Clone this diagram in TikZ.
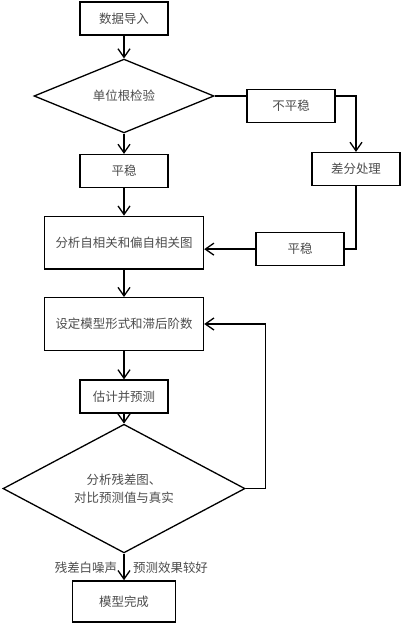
\documentclass[tikz,border=0pt]{standalone}
\usepackage{fontspec}
\newfontfamily\cjk{Noto Sans CJK SC}
\usepackage{tikz}
\usetikzlibrary{arrows.meta, positioning, shapes.geometric}

\begin{document}
\begin{tikzpicture}[
  block/.style={rectangle, draw, line width=1.3pt, minimum width=3.08cm, minimum height=1.16cm,
    align=center, text=black!70, font=\cjk\fontsize{12.4}{17.5}\selectfont, inner sep=0pt},
  wide/.style={block, minimum width=5.57cm, minimum height=1.84cm},
  decide/.style={diamond, draw, line width=1.3pt, align=center, inner sep=0pt,
    text=black!70, font=\cjk\fontsize{12.4}{17.5}\selectfont},
  arrow/.style={-{Straight Barb[length=3mm, width=4.2mm]}, line width=1.3pt},
  line/.style={line width=1.3pt},
  lbl/.style={text=black!70, font=\cjk\fontsize{12.4}{15}\selectfont, inner sep=0pt}
]
\useasboundingbox (0,0) rectangle (14.14,-21.805);

% Stage 0: import
\node[block] (import) at (4.34,-0.65) {数据导入};

% Stage 1: unit root test
\node[decide, minimum width=6.3cm, minimum height=2.31cm] (test) at (4.34,-3.36) {单位根检验};
\node[block] (nonstat) at (10.19,-3.71) {不平稳};
\node[block] (diff) at (12.46,-5.92) {差分处理};
\node[block] (stat) at (4.34,-5.99) {平稳};
\node[block] (statb) at (10.5,-8.72) {平稳};

% Stage 2: ACF / PACF
\node[wide] (acf) at (4.34,-8.49) {分析自相关和偏自相关图};

% Stage 3: model order
\node[wide] (order) at (4.34,-11.34) {设定模型形式和滞后阶数};
\node[block] (est) at (4.34,-13.88) {估计并预测};

% Stage 4: check
\node[decide, minimum width=8.47cm, minimum height=3.19cm] (check) at (4.34,-17.1) {分析残差图、\\对比预测值与真实};
\node[block, minimum width=3.6cm, minimum height=1.44cm] (done) at (4.34,-21.05) {模型完成};

% Arrows
\draw[arrow] (import) -- (test);
\draw[arrow] (test) -- (stat);
\draw[line] (test.east) -- (test.east -| nonstat.west);
\draw[arrow] (test.east -| nonstat.east) -| (diff.north);
\draw[line] (diff.south) |- (statb.east);
\draw[arrow] (statb.west) -- (statb.west -| acf.east);
\draw[arrow] (stat) -- (acf);
\draw[arrow] (acf) -- (order);
\draw[arrow] (order) -- (est);
\draw[arrow] (est) -- (check);
\draw[arrow] (check.east) -- ++(0.7,0) |- (order.east);
\draw[arrow] (check) -- node[pos=0.52, left=0.22cm, lbl] {残差白噪声} node[pos=0.52, right=0.3cm, lbl] {预测效果较好} (done);

\end{tikzpicture}
\end{document}
